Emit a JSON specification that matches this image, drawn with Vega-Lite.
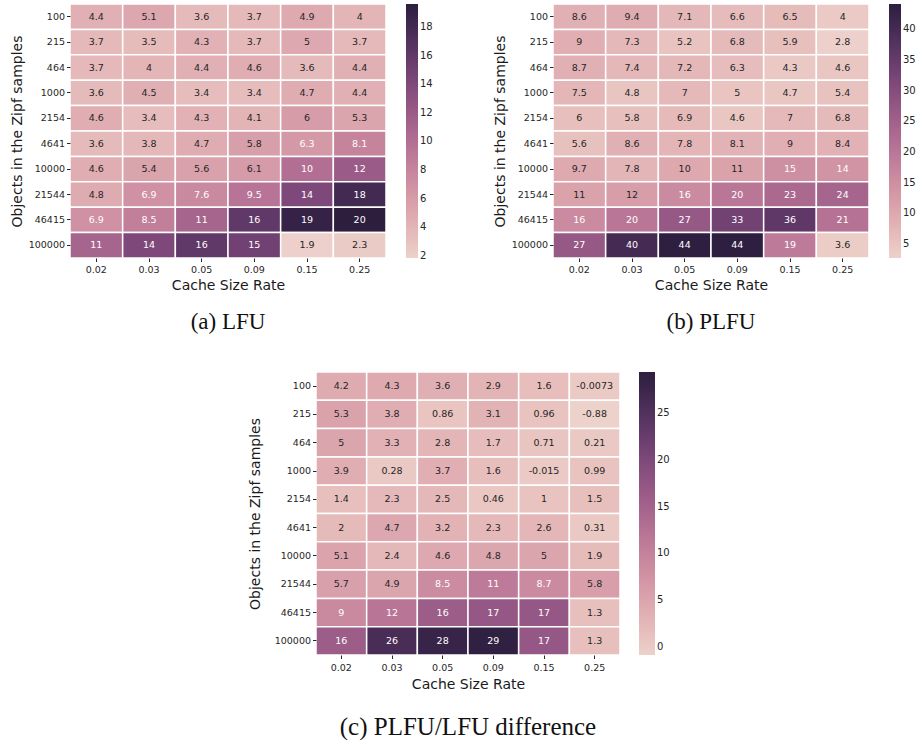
{
  "$schema": "https://vega.github.io/schema/vega-lite/v6.json",
  "padding": {"left": 10, "top": 3, "right": 0, "bottom": 0},
  "background": "white",
  "datasets": {
    "lfu": [
      {"objects": 100, "rate": 0.02, "v": 4.4}, {"objects": 100, "rate": 0.03, "v": 5.1}, {"objects": 100, "rate": 0.05, "v": 3.6}, {"objects": 100, "rate": 0.09, "v": 3.7}, {"objects": 100, "rate": 0.15, "v": 4.9}, {"objects": 100, "rate": 0.25, "v": 4},
      {"objects": 215, "rate": 0.02, "v": 3.7}, {"objects": 215, "rate": 0.03, "v": 3.5}, {"objects": 215, "rate": 0.05, "v": 4.3}, {"objects": 215, "rate": 0.09, "v": 3.7}, {"objects": 215, "rate": 0.15, "v": 5}, {"objects": 215, "rate": 0.25, "v": 3.7},
      {"objects": 464, "rate": 0.02, "v": 3.7}, {"objects": 464, "rate": 0.03, "v": 4}, {"objects": 464, "rate": 0.05, "v": 4.4}, {"objects": 464, "rate": 0.09, "v": 4.6}, {"objects": 464, "rate": 0.15, "v": 3.6}, {"objects": 464, "rate": 0.25, "v": 4.4},
      {"objects": 1000, "rate": 0.02, "v": 3.6}, {"objects": 1000, "rate": 0.03, "v": 4.5}, {"objects": 1000, "rate": 0.05, "v": 3.4}, {"objects": 1000, "rate": 0.09, "v": 3.4}, {"objects": 1000, "rate": 0.15, "v": 4.7}, {"objects": 1000, "rate": 0.25, "v": 4.4},
      {"objects": 2154, "rate": 0.02, "v": 4.6}, {"objects": 2154, "rate": 0.03, "v": 3.4}, {"objects": 2154, "rate": 0.05, "v": 4.3}, {"objects": 2154, "rate": 0.09, "v": 4.1}, {"objects": 2154, "rate": 0.15, "v": 6}, {"objects": 2154, "rate": 0.25, "v": 5.3},
      {"objects": 4641, "rate": 0.02, "v": 3.6}, {"objects": 4641, "rate": 0.03, "v": 3.8}, {"objects": 4641, "rate": 0.05, "v": 4.7}, {"objects": 4641, "rate": 0.09, "v": 5.8}, {"objects": 4641, "rate": 0.15, "v": 6.3}, {"objects": 4641, "rate": 0.25, "v": 8.1},
      {"objects": 10000, "rate": 0.02, "v": 4.6}, {"objects": 10000, "rate": 0.03, "v": 5.4}, {"objects": 10000, "rate": 0.05, "v": 5.6}, {"objects": 10000, "rate": 0.09, "v": 6.1}, {"objects": 10000, "rate": 0.15, "v": 10}, {"objects": 10000, "rate": 0.25, "v": 12},
      {"objects": 21544, "rate": 0.02, "v": 4.8}, {"objects": 21544, "rate": 0.03, "v": 6.9}, {"objects": 21544, "rate": 0.05, "v": 7.6}, {"objects": 21544, "rate": 0.09, "v": 9.5}, {"objects": 21544, "rate": 0.15, "v": 14}, {"objects": 21544, "rate": 0.25, "v": 18},
      {"objects": 46415, "rate": 0.02, "v": 6.9}, {"objects": 46415, "rate": 0.03, "v": 8.5}, {"objects": 46415, "rate": 0.05, "v": 11}, {"objects": 46415, "rate": 0.09, "v": 16}, {"objects": 46415, "rate": 0.15, "v": 19}, {"objects": 46415, "rate": 0.25, "v": 20},
      {"objects": 100000, "rate": 0.02, "v": 11}, {"objects": 100000, "rate": 0.03, "v": 14}, {"objects": 100000, "rate": 0.05, "v": 16}, {"objects": 100000, "rate": 0.09, "v": 15}, {"objects": 100000, "rate": 0.15, "v": 1.9}, {"objects": 100000, "rate": 0.25, "v": 2.3}
    ],
    "plfu": [
      {"objects": 100, "rate": 0.02, "v": 8.6}, {"objects": 100, "rate": 0.03, "v": 9.4}, {"objects": 100, "rate": 0.05, "v": 7.1}, {"objects": 100, "rate": 0.09, "v": 6.6}, {"objects": 100, "rate": 0.15, "v": 6.5}, {"objects": 100, "rate": 0.25, "v": 4},
      {"objects": 215, "rate": 0.02, "v": 9}, {"objects": 215, "rate": 0.03, "v": 7.3}, {"objects": 215, "rate": 0.05, "v": 5.2}, {"objects": 215, "rate": 0.09, "v": 6.8}, {"objects": 215, "rate": 0.15, "v": 5.9}, {"objects": 215, "rate": 0.25, "v": 2.8},
      {"objects": 464, "rate": 0.02, "v": 8.7}, {"objects": 464, "rate": 0.03, "v": 7.4}, {"objects": 464, "rate": 0.05, "v": 7.2}, {"objects": 464, "rate": 0.09, "v": 6.3}, {"objects": 464, "rate": 0.15, "v": 4.3}, {"objects": 464, "rate": 0.25, "v": 4.6},
      {"objects": 1000, "rate": 0.02, "v": 7.5}, {"objects": 1000, "rate": 0.03, "v": 4.8}, {"objects": 1000, "rate": 0.05, "v": 7}, {"objects": 1000, "rate": 0.09, "v": 5}, {"objects": 1000, "rate": 0.15, "v": 4.7}, {"objects": 1000, "rate": 0.25, "v": 5.4},
      {"objects": 2154, "rate": 0.02, "v": 6}, {"objects": 2154, "rate": 0.03, "v": 5.8}, {"objects": 2154, "rate": 0.05, "v": 6.9}, {"objects": 2154, "rate": 0.09, "v": 4.6}, {"objects": 2154, "rate": 0.15, "v": 7}, {"objects": 2154, "rate": 0.25, "v": 6.8},
      {"objects": 4641, "rate": 0.02, "v": 5.6}, {"objects": 4641, "rate": 0.03, "v": 8.6}, {"objects": 4641, "rate": 0.05, "v": 7.8}, {"objects": 4641, "rate": 0.09, "v": 8.1}, {"objects": 4641, "rate": 0.15, "v": 9}, {"objects": 4641, "rate": 0.25, "v": 8.4},
      {"objects": 10000, "rate": 0.02, "v": 9.7}, {"objects": 10000, "rate": 0.03, "v": 7.8}, {"objects": 10000, "rate": 0.05, "v": 10}, {"objects": 10000, "rate": 0.09, "v": 11}, {"objects": 10000, "rate": 0.15, "v": 15}, {"objects": 10000, "rate": 0.25, "v": 14},
      {"objects": 21544, "rate": 0.02, "v": 11}, {"objects": 21544, "rate": 0.03, "v": 12}, {"objects": 21544, "rate": 0.05, "v": 16}, {"objects": 21544, "rate": 0.09, "v": 20}, {"objects": 21544, "rate": 0.15, "v": 23}, {"objects": 21544, "rate": 0.25, "v": 24},
      {"objects": 46415, "rate": 0.02, "v": 16}, {"objects": 46415, "rate": 0.03, "v": 20}, {"objects": 46415, "rate": 0.05, "v": 27}, {"objects": 46415, "rate": 0.09, "v": 33}, {"objects": 46415, "rate": 0.15, "v": 36}, {"objects": 46415, "rate": 0.25, "v": 21},
      {"objects": 100000, "rate": 0.02, "v": 27}, {"objects": 100000, "rate": 0.03, "v": 40}, {"objects": 100000, "rate": 0.05, "v": 44}, {"objects": 100000, "rate": 0.09, "v": 44}, {"objects": 100000, "rate": 0.15, "v": 19}, {"objects": 100000, "rate": 0.25, "v": 3.6}
    ],
    "diff": [
      {"objects": 100, "rate": 0.02, "v": 4.2}, {"objects": 100, "rate": 0.03, "v": 4.3}, {"objects": 100, "rate": 0.05, "v": 3.6}, {"objects": 100, "rate": 0.09, "v": 2.9}, {"objects": 100, "rate": 0.15, "v": 1.6}, {"objects": 100, "rate": 0.25, "v": -0.0073},
      {"objects": 215, "rate": 0.02, "v": 5.3}, {"objects": 215, "rate": 0.03, "v": 3.8}, {"objects": 215, "rate": 0.05, "v": 0.86}, {"objects": 215, "rate": 0.09, "v": 3.1}, {"objects": 215, "rate": 0.15, "v": 0.96}, {"objects": 215, "rate": 0.25, "v": -0.88},
      {"objects": 464, "rate": 0.02, "v": 5}, {"objects": 464, "rate": 0.03, "v": 3.3}, {"objects": 464, "rate": 0.05, "v": 2.8}, {"objects": 464, "rate": 0.09, "v": 1.7}, {"objects": 464, "rate": 0.15, "v": 0.71}, {"objects": 464, "rate": 0.25, "v": 0.21},
      {"objects": 1000, "rate": 0.02, "v": 3.9}, {"objects": 1000, "rate": 0.03, "v": 0.28}, {"objects": 1000, "rate": 0.05, "v": 3.7}, {"objects": 1000, "rate": 0.09, "v": 1.6}, {"objects": 1000, "rate": 0.15, "v": -0.015}, {"objects": 1000, "rate": 0.25, "v": 0.99},
      {"objects": 2154, "rate": 0.02, "v": 1.4}, {"objects": 2154, "rate": 0.03, "v": 2.3}, {"objects": 2154, "rate": 0.05, "v": 2.5}, {"objects": 2154, "rate": 0.09, "v": 0.46}, {"objects": 2154, "rate": 0.15, "v": 1}, {"objects": 2154, "rate": 0.25, "v": 1.5},
      {"objects": 4641, "rate": 0.02, "v": 2}, {"objects": 4641, "rate": 0.03, "v": 4.7}, {"objects": 4641, "rate": 0.05, "v": 3.2}, {"objects": 4641, "rate": 0.09, "v": 2.3}, {"objects": 4641, "rate": 0.15, "v": 2.6}, {"objects": 4641, "rate": 0.25, "v": 0.31},
      {"objects": 10000, "rate": 0.02, "v": 5.1}, {"objects": 10000, "rate": 0.03, "v": 2.4}, {"objects": 10000, "rate": 0.05, "v": 4.6}, {"objects": 10000, "rate": 0.09, "v": 4.8}, {"objects": 10000, "rate": 0.15, "v": 5}, {"objects": 10000, "rate": 0.25, "v": 1.9},
      {"objects": 21544, "rate": 0.02, "v": 5.7}, {"objects": 21544, "rate": 0.03, "v": 4.9}, {"objects": 21544, "rate": 0.05, "v": 8.5}, {"objects": 21544, "rate": 0.09, "v": 11}, {"objects": 21544, "rate": 0.15, "v": 8.7}, {"objects": 21544, "rate": 0.25, "v": 5.8},
      {"objects": 46415, "rate": 0.02, "v": 9}, {"objects": 46415, "rate": 0.03, "v": 12}, {"objects": 46415, "rate": 0.05, "v": 16}, {"objects": 46415, "rate": 0.09, "v": 17}, {"objects": 46415, "rate": 0.15, "v": 17}, {"objects": 46415, "rate": 0.25, "v": 1.3},
      {"objects": 100000, "rate": 0.02, "v": 16}, {"objects": 100000, "rate": 0.03, "v": 26}, {"objects": 100000, "rate": 0.05, "v": 28}, {"objects": 100000, "rate": 0.09, "v": 29}, {"objects": 100000, "rate": 0.15, "v": 17}, {"objects": 100000, "rate": 0.25, "v": 1.3}
    ]
  },
  "vconcat": [
    {
      "hconcat": [
        {
          "width": 316, "height": 254,
          "data": {"name": "lfu"},
          "title": {"text": "(a) LFU", "orient": "bottom", "frame": "group", "anchor": "middle", "offset": 19},
          "encoding": {
            "x": {"field": "rate", "type": "ordinal", "title": "Cache Size Rate"},
            "y": {"field": "objects", "type": "ordinal", "title": "Objects in the Zipf samples"}
          },
          "layer": [
            {
              "mark": {"type": "rect", "stroke": "white", "strokeWidth": 1.5},
              "encoding": {
                "color": {
                  "field": "v", "type": "quantitative",
                  "scale": {"domain": [1.86, 4.394, 6.929, 9.463, 11.997, 14.531, 17.066, 19.6], "range": ["#edd1cb", "#e1b0b4", "#cf91a3", "#b87496", "#9a5b88", "#774576", "#51315e", "#2d1e3e"], "clamp": true},
                  "legend": {"title": null, "values": [2, 4, 6, 8, 10, 12, 14, 16, 18], "gradientLength": 254, "gradientThickness": 12, "offset": 20}
                }
              }
            },
            {
              "mark": {"type": "text", "fontSize": 9.5, "font": "DejaVu Sans"},
              "encoding": {
                "text": {"field": "v", "type": "nominal"},
                "color": {"condition": {"test": "datum.v > 6.2", "value": "white"}, "value": "#262626"}
              }
            }
          ]
        },
        {
          "width": 316, "height": 254,
          "data": {"name": "plfu"},
          "title": {"text": "(b) PLFU", "orient": "bottom", "frame": "group", "anchor": "middle", "offset": 19},
          "encoding": {
            "x": {"field": "rate", "type": "ordinal", "title": "Cache Size Rate"},
            "y": {"field": "objects", "type": "ordinal", "title": "Objects in the Zipf samples"}
          },
          "layer": [
            {
              "mark": {"type": "rect", "stroke": "white", "strokeWidth": 1.5},
              "encoding": {
                "color": {
                  "field": "v", "type": "quantitative",
                  "scale": {"domain": [2.7, 8.614, 14.529, 20.443, 26.357, 32.271, 38.186, 44.1], "range": ["#edd1cb", "#e1b0b4", "#cf91a3", "#b87496", "#9a5b88", "#774576", "#51315e", "#2d1e3e"], "clamp": true},
                  "legend": {"title": null, "values": [5, 10, 15, 20, 25, 30, 35, 40], "gradientLength": 254, "gradientThickness": 12, "offset": 20}
                }
              }
            },
            {
              "mark": {"type": "text", "fontSize": 9.5, "font": "DejaVu Sans"},
              "encoding": {
                "text": {"field": "v", "type": "nominal"},
                "color": {"condition": {"test": "datum.v > 13", "value": "white"}, "value": "#262626"}
              }
            }
          ]
        }
      ],
      "spacing": 60,
      "resolve": {"scale": {"color": "independent"}, "legend": {"color": "independent"}}
    },
    {
      "width": 304, "height": 283,
      "data": {"name": "diff"},
      "title": {"text": "(c) PLFU/LFU difference", "orient": "bottom", "frame": "group", "anchor": "middle", "offset": 24, "fontSize": 25},
      "encoding": {
        "x": {"field": "rate", "type": "ordinal", "title": "Cache Size Rate", "axis": {"labelPadding": 4, "titlePadding": 5}},
        "y": {"field": "objects", "type": "ordinal", "title": "Objects in the Zipf samples", "axis": {"titlePadding": 12}}
      },
      "layer": [
        {
          "mark": {"type": "rect", "stroke": "white", "strokeWidth": 1.5},
          "encoding": {
            "color": {
              "field": "v", "type": "quantitative",
              "scale": {"domain": [-0.88, 3.446, 7.771, 12.097, 16.423, 20.749, 25.074, 29.4], "range": ["#edd1cb", "#e1b0b4", "#cf91a3", "#b87496", "#9a5b88", "#774576", "#51315e", "#2d1e3e"], "clamp": true},
              "legend": {"title": null, "values": [0, 5, 10, 15, 20, 25], "gradientLength": 283, "gradientThickness": 16, "offset": 19}
            }
          }
        },
        {
          "mark": {"type": "text", "fontSize": 9.5, "font": "DejaVu Sans"},
          "encoding": {
            "text": {"field": "v", "type": "nominal"},
            "color": {"condition": {"test": "datum.v > 7", "value": "white"}, "value": "#262626"}
          }
        }
      ]
    }
  ],
  "spacing": 37,
  "center": true,
  "resolve": {"scale": {"color": "independent"}, "legend": {"color": "independent"}},
  "config": {
    "view": {"stroke": null},
    "scale": {"bandPaddingInner": 0, "bandPaddingOuter": 0},
    "axis": {
      "domain": false, "grid": false,
      "tickColor": "#262626", "tickSize": 3.5, "tickWidth": 1,
      "labelFont": "DejaVu Sans", "labelFontSize": 9.5, "labelColor": "#262626", "labelPadding": 2,
      "titleFont": "DejaVu Sans", "titleFontSize": 14, "titleFontWeight": "normal", "titleColor": "#1a1a1a"
    },
    "axisX": {"labelAngle": 0, "titlePadding": 4, "labelPadding": 3},
    "axisY": {"titlePadding": 4},
    "legend": {"labelFont": "DejaVu Sans", "labelFontSize": 10, "labelColor": "#262626", "labelOffset": 7, "gradientStrokeWidth": 0},
    "title": {"font": "Liberation Serif", "fontSize": 23, "fontWeight": "normal", "color": "#111111"}
  }
}
